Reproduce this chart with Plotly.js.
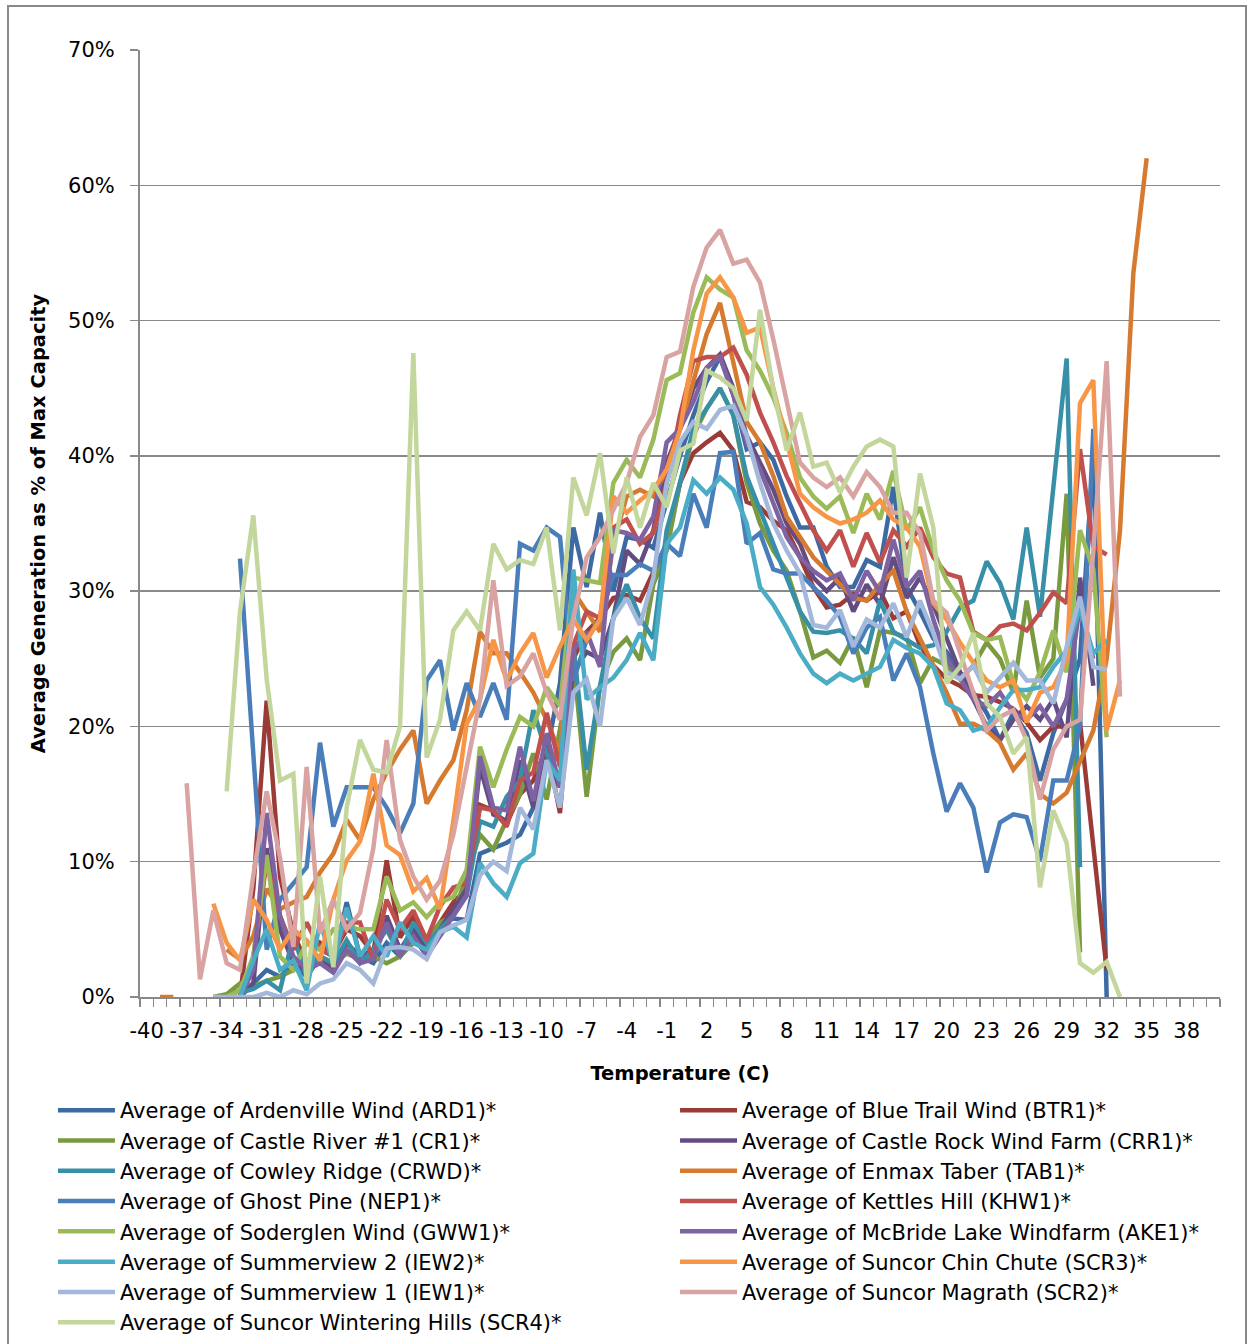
<!DOCTYPE html>
<html><head><meta charset="utf-8">
<script src="https://cdn.plot.ly/plotly-3.0.1.min.js"></script>
<style>body{margin:0;background:#fff}#chart{width:1253px;height:1344px}</style>
</head><body><div id="chart"></div>
<script>
var n = null;
// Temperature categories (C), -40 .. 35
var temps = [-40,-39,-38,-37,-36,-35,-34,-33,-32,-31,
  -30,-29,-28,-27,-26,-25,-24,-23,-22,-21,
  -20,-19,-18,-17,-16,-15,-14,-13,-12,-11,
  -10,-9,-8,-7,-6,-5,-4,-3,-2,-1,
  0,1,2,3,4,5,6,7,8,9,
  10,11,12,13,14,15,16,17,18,19,
  20,21,22,23,24,25,26,27,28,29,
  30,31,32,33,34,35];
// Labelled temperatures on the x axis
var tickTemps = [-40,-37,-34,-31,-28,-25,-22,-19,-16,-13,-10,-7,-4,-1,2,5,8,11,14,17,20,23,26,29,32,35,38];
var tickLabels = ['-40','-37','-34','-31','-28','-25','-22','-19','-16','-13','-10','-7','-4','-1','2','5','8','11','14','17','20','23','26','29','32','35','38'];

// Average generation as % of max capacity
var ARD1 = [n,n,n,n,n,n,0,0.5,1,2, 1.5,2.5,1.5,3,2.5,7,3,2.5,4,3, 4.5,3.5,5.5,5.8,5.7,10.6,11,11.4,12,14,
  18,23.2,34.7,30.3,35.8,30,34,33.8,33.2,36.7, 40,43,45.5,47.3,44.5,40.5,41,39.7,37,34.7,
  34.7,31.8,30.3,30.3,32.3,31.8,37.7,30.3,28.5,26.5, 25.5,24,22.5,21,19,21,19.5,16,19.5,22, 25,40,0,n,n,n];
var BTR1 = [n,n,n,n,n,n,n,0,8,21.9, 8.9,4.7,2.5,4,3.2,5,4.5,3.2,10.1,4.4, 6,3.5,5.5,7,8,14.2,13.8,12.8,15,16,
  18.5,13.6,25,27,28,29.5,29.7,29.3,31.5,33.5, 38,40.2,41,41.7,40.4,36.6,36.2,35.2,34.5,32.5,
  30.3,28.8,29,29.8,29.3,30,28,28.5,26,24.5, 23.5,23,22.3,22.2,21.8,21.3,20.3,19,20,20, 20.3,11,2,n,n,n];
var CR1 = [n,n,n,n,n,0,0.2,1,0.8,1.2, 1.5,2,2.5,3,2.5,3.2,2.8,3,2.5,3, 4,4.2,5.5,6,9,12,10.9,13.1,15,18,
  14.6,20,25,14.8,23,25.5,26.5,24.9,30.5,33, 38,41.5,43.5,45,43,38,35,33,31.5,28.5,
  25.1,25.6,24.7,26.6,22.9,27.1,26.9,26.6,23.2,25, 24.5,23.5,24.5,26.2,25,22.5,29.3,23.6,25,37.2, 3.3,n,n,n,n,n];
var CRR1 = [n,n,n,n,n,n,n,0,1,11, 5,2.5,2,3,2,4,3,3.5,6,3.5, 5,3.5,5,6.5,8,17,13.5,13,17.5,14,
  17.5,15.5,24,25.5,25,28,33,32,34.5,39.5, 42,45,46.5,47.5,45,41.5,39.5,37.5,35,33.5,
  31,30,31,28.5,30.5,29,32.5,29.5,31,29, 26.5,24,22,20,19,20.5,21.5,20.5,22,19.2, 31,23,n,n,n,n];
var CRWD = [n,n,n,n,n,n,n,0.3,0.6,1.2, 0.5,4.5,1.5,3,2.5,4.2,2.5,3.5,5,3, 5.5,4,5,6,7.5,13,12.6,14.8,16,21.2,
  18,16,26,16.8,23,28,30.5,28,26.5,34.5, 38,42,43.5,45,43,38.5,36,33.5,31,28.5,
  27,26.9,27.1,26.5,25.4,29.3,27,26.4,25.8,26, 27,28.8,29.3,32.2,30.6,27.9,34.7,28.1,38,47.2, 9.6,n,n,n,n,n];
var TAB1 = [n,0,0,n,n,n,3.5,2.8,4.5,8, 6.5,7,7.4,9.2,10.6,13.1,11.6,14.6,16.6,18.3, 19.7,14.3,16,17.5,21.2,27,25.4,25.4,24,22.5,
  20.5,18,30,28.5,27,33.5,37,37.5,37,39, 42,45.5,49,51.3,47,42.5,41,38.5,35.5,34,
  32.5,31.5,30.5,29.5,29.3,30.5,31.5,28.5,26.5,24.5, 22.5,20.2,20.2,19.7,18.8,16.8,18,15,14.3,15.1, 17.5,19.7,25,34.5,53.5,62];
var NEP1 = [n,n,n,n,n,n,n,32.4,18.5,3.5, 7.2,8.4,9.6,18.8,12.6,15.5,15.5,15.5,14,12.1, 14.3,23.4,24.9,19.7,23.2,20.7,23.2,20.5,33.5,33,
  34.7,34,23.4,26.4,28,31.2,31.2,32,31.5,33.5, 32.6,37.2,34.7,40.2,40.3,33.5,34.3,31.6,31.3,31.3,
  30.3,29.3,28.1,25.4,27.3,28.1,23.4,25.4,22.9,18, 13.7,15.8,14,9.2,12.9,13.5,13.3,10.1,16,16, 20,42,n,n,n,n];
var KHW1 = [n,n,n,n,n,n,n,0,3,10, 6,3.5,5.5,3.5,3,5.5,5.5,2.7,7.2,5, 6.4,4.2,6.7,8.1,8.4,14,13.8,12.6,16,16.6,
  21,17,26,28.5,28,34.7,35.3,33.5,34.3,38, 43,47,47.3,47.3,48,46,43.2,41,38.5,36.5,
  34.5,33,34.5,31.8,34.3,32.1,34.5,33.3,34.7,32.5, 31.3,31,27,26.4,27.4,27.6,27.1,28.4,29.9,29.1, 40.5,33.3,32.7,n,n,n];
var GWW1 = [n,n,n,n,n,n,0,0.5,3,10.5, 3,2,4,3.5,5,5.2,5,5,8.9,6.4, 7,5.9,7,7.4,9.4,18.5,15.5,18.3,20.7,20,
  22.9,21.5,31,30.8,30.6,38,39.7,38.4,41.2,45.6, 46.1,50.6,53.2,52.3,51.7,47.8,46.3,44.3,41.7,38.4,
  37,36.1,37,34.3,37.2,35.3,38.9,34.5,36.2,33, 30.8,29.3,26.9,26.4,26.6,23.2,22,24,27.1,24, 34.5,31.6,19.2,n,n,n];
var AKE1 = [n,n,n,n,n,n,n,0,2,13.6, 6,3,2,2.5,1.8,3.5,2.5,2.8,5.5,3, 4.5,3,4.5,6,7.5,17.8,14,13.8,18.5,14.5,
  19.5,15.5,25.6,27,24.4,34.5,34.3,33.8,35.5,41, 42,44,46.5,47.3,44.5,41,39,36.5,34,32.5,
  31.5,30.8,31.3,29.3,31.5,29.9,33.8,30.3,31.5,27.9, 25,23.5,22,21.5,22.5,21,20.5,21.5,20,22, 29,25,n,n,n,n];
var IEW2 = [n,n,n,n,n,n,n,0,2.7,5, 2,2.7,0.5,5.5,2.5,6.6,3,4.5,3,5.5, 4,3.5,4.8,5.2,4.4,9.9,8.4,7.4,9.9,10.6,
  17.5,16,31.6,22,22.9,23.6,24.9,26.9,24.9,33.5, 34.7,38.2,37.2,38.4,37.5,35,30.3,29,27.3,25.4,
  23.9,23.2,23.9,23.4,23.9,24.4,26.4,25.8,25.4,24.4, 21.7,21.2,19.7,20,21.4,22.7,22.7,22.9,24.4,25.6, 28.8,25.4,26.4,n,n,n];
var SCR3 = [n,n,n,n,n,6.9,4,2.7,7.2,5.7, 3.5,5,4.2,2.7,7.2,10.1,11.5,16.5,11.2,10.5, 7.8,8.8,6.5,13,20.2,22,26.4,23.4,25.4,26.9,
  23.6,25.9,27.9,26.4,27.9,37,35.8,36.7,37.5,39, 41.9,47.8,52,53.2,51.7,49.1,49.5,45,41.2,37.2,
  36.2,35.5,35,35.3,35.8,36.7,35.3,34.7,33.3,29.1, 27.9,26.2,24.7,23.4,22.9,23.4,20.3,22.5,22.9,24.9, 43.9,45.6,19.7,23.4,n,n];
var IEW1 = [n,n,n,n,n,0,0,0,0,0.3, 0,0.5,0.2,1,1.3,2.5,2,1,3.6,3.7, 3.5,2.8,4.8,5.3,5.7,9,10,9.3,14,12.4,
  17.5,14,22.5,23.5,20,28,29.5,27.5,31,38, 41,42.5,42,43.4,43.7,41.5,38,35,33,31.3,
  27.5,27.3,28.6,25.9,27.9,27.3,29.1,26.6,29.3,26.9, 24,23.5,24.5,22.5,23.6,24.7,23.4,23.4,21.7,25.9, 29.6,24.4,24.2,n,n,n];
var SCR2 = [n,n,n,15.8,1.3,6.4,2.5,2,9,15.2, 10.3,3.7,17,4.7,7.2,5,6.2,11,19,11.6, 8.9,7.2,8.6,12,17,22,30.8,23,23.7,25.4,
  22.5,20.5,28,32.5,34,36,38,41.4,43,47.3, 47.7,52.5,55.4,56.7,54.2,54.5,52.8,48.6,44,39.5,
  38.4,37.7,38.4,37,38.8,37.7,35.8,35.8,34.3,29.3, 28.4,25.4,22.5,19.7,20.7,21.2,19,14.6,18.3,20, 20.5,33,47,22.2,n,n];
var SCR4 = [n,n,n,n,n,n,15.2,28.5,35.6,23.5, 16,16.5,1,8.9,2.2,14,19,16.8,16.6,20, 47.6,17.7,20.5,27.1,28.5,27.1,33.5,31.6,32.3,32,
  34.7,27.1,38.4,35.6,40.2,32.8,38.4,34.7,38,36.2, 40.4,40.9,46.3,45.8,45,42.6,50.8,44.9,40.4,43.2,
  39.2,39.5,37.3,39.2,40.7,41.2,40.7,31,38.7,34.7, 23.2,24.4,26.9,21.7,20.7,18,19.2,8.1,13.8,11.4, 2.5,1.8,2.6,0,n,n];

var seriesNames = [
  'Average of Ardenville Wind (ARD1)*','Average of Blue Trail Wind (BTR1)*',
  'Average of Castle River #1 (CR1)*','Average of Castle Rock Wind Farm (CRR1)*',
  'Average of Cowley Ridge (CRWD)*','Average of Enmax Taber (TAB1)*',
  'Average of Ghost Pine (NEP1)*','Average of Kettles Hill (KHW1)*',
  'Average of Soderglen Wind (GWW1)*','Average of McBride Lake Windfarm (AKE1)*',
  'Average of Summerview 2 (IEW2)*','Average of Suncor Chin Chute (SCR3)*',
  'Average of Summerview 1 (IEW1)*','Average of Suncor Magrath (SCR2)*',
  'Average of Suncor Wintering Hills (SCR4)*'];
var seriesValues = [ARD1,BTR1,CR1,CRR1,CRWD,TAB1,NEP1,KHW1,GWW1,AKE1,IEW2,SCR3,IEW1,SCR2,SCR4];
var seriesColors = ['#3D6AA2','#9A3B38','#7A9A40','#634C82','#3890A8','#D67A30',
  '#4A7EBB','#C0504D','#9BBB59','#7F62A2','#4BACC6','#F79646','#A3B8DA','#D9A3A2','#C3D69B'];

var FONT = '"DejaVu Sans", "Liberation Sans", sans-serif';
var traces = seriesValues.map(function(v,i){
  return {x: temps, y: v, type:'scatter', mode:'lines', name: seriesNames[i],
    line:{color: seriesColors[i], width:4.5}, connectgaps:false,
    legend: (i % 2 === 0) ? 'legend' : 'legend2', hoverinfo:'skip'};
});

var grey = '#898989';
var layout = {
  width:1253, height:1344,
  margin:{l:140, r:33, t:50, b:347, autoexpand:false},
  paper_bgcolor:'#fff', plot_bgcolor:'#fff',
  font:{family:FONT, size:21, color:'#000'},
  showlegend:true,
  xaxis:{range:[-40.5,40.5], tickmode:'array', tickvals:tickTemps, ticktext:tickLabels, ticks:'', tickangle:0,
    showgrid:false, zeroline:false, showline:true, linecolor:grey, linewidth:2, automargin:false,
    tickfont:{size:21}, ticklabelstandoff:14,
    minor:{tickmode:'linear', tick0:-40.5, dtick:1, ticks:'outside', ticklen:8, tickcolor:grey, tickwidth:1.5, showgrid:false},
    title:{text:'<b>Temperature (C)</b>', font:{size:19.5}, standoff:24}},
  yaxis:{range:[0,70], tickmode:'linear', tick0:0, dtick:10, ticksuffix:'%',
    showgrid:true, gridcolor:grey, gridwidth:1.5, zeroline:false, automargin:false,
    showline:true, linecolor:grey, linewidth:2, ticks:'outside', ticklen:8, tickcolor:grey, tickwidth:1.5,
    tickfont:{size:21}, ticklabelstandoff:11,
    title:{text:'<b>Average Generation as % of Max Capacity</b>', font:{size:19.5}, standoff:17}},
  legend:{x:-0.0806, y:-0.0982, xanchor:'left', yanchor:'top', orientation:'v',
    font:{size:21}, bgcolor:'rgba(0,0,0,0)', itemwidth:57, tracegroupgap:0, itemclick:false},
  legend2:{x:0.4954, y:-0.0982, xanchor:'left', yanchor:'top', orientation:'v',
    font:{size:21}, bgcolor:'rgba(0,0,0,0)', itemwidth:57, tracegroupgap:0, itemclick:false},
  shapes:[{type:'rect', xref:'paper', yref:'paper', x0:(8-140)/1080, x1:(1246-140)/1080,
    y0:(997-1360)/947, y1:(997-6)/947, line:{color:grey, width:2}, fillcolor:'rgba(0,0,0,0)', layer:'below'}]
};
Plotly.newPlot('chart', traces, layout, {staticPlot:true});
</script></body></html>
